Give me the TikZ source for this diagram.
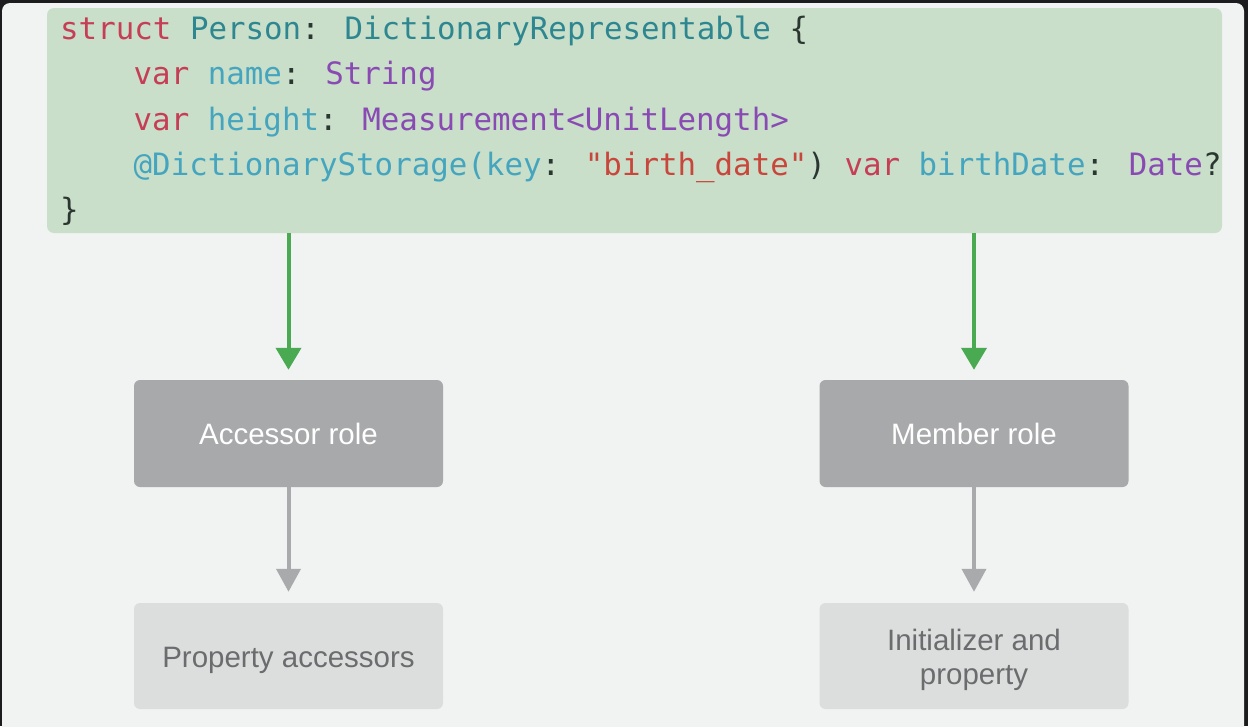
\documentclass[tikz,border=0pt]{standalone}
\usepackage{fontspec}
\setmainfont{Liberation Sans}
\newfontfamily\codefont{DejaVu Sans Mono}
\usetikzlibrary{arrows.meta}
\definecolor{pagebg}{HTML}{F1F2F2}
\definecolor{frame}{HTML}{1C1C1E}
\definecolor{codebg}{HTML}{C9DFCA}
\definecolor{kw}{HTML}{C63D56}
\definecolor{ty}{HTML}{2E8790}
\definecolor{idc}{HTML}{45A5BF}
\definecolor{tp}{HTML}{8A4AB3}
\definecolor{str}{HTML}{C8463B}
\definecolor{pl}{HTML}{2A3630}
\definecolor{rolebg}{HTML}{A8A9AB}
\definecolor{outbg}{HTML}{DCDDDD}
\definecolor{outtx}{HTML}{6B6C6D}
\definecolor{garr}{HTML}{4AAA52}
\definecolor{gyarr}{HTML}{A9AAAC}
\begin{document}
\begin{tikzpicture}[x=1pt,y=-1pt,
  codeline/.style={anchor=base west,inner sep=0pt,font=\codefont\fontsize{30.8}{36}\selectfont,text=pl},
  codebox/.style={fill=codebg,rounded corners=7pt,minimum width=1175pt,minimum height=225pt,inner sep=0pt},
  rolebox/.style={fill=rolebg,rounded corners=6pt,minimum width=309pt,minimum height=107pt,inner sep=0pt,
     text=white,font=\fontsize{29.5}{34}\selectfont},
  outbox/.style={fill=outbg,rounded corners=6pt,minimum width=309pt,minimum height=106pt,inner sep=0pt},
  outlabel/.style={label={[text=outtx,font=\fontsize{29.5}{34}\selectfont,align=center,yshift=-4pt]center:#1}},
  garrow/.style={draw=garr,line width=4pt,-{Triangle[width=25pt,length=22pt]},shorten >=10pt},
  gyarrow/.style={draw=gyarr,line width=4pt,-{Triangle[width=24pt,length=23pt]},shorten >=11pt}
]
\useasboundingbox (0,0) rectangle (1248,726);
\fill[frame] (0,0) rectangle (1248,726);
\fill[pagebg,rounded corners=8pt] (2,3) rectangle (1244,740);

\node[codebox] (code) at (634.5,120.5) {};
\node[codeline] (l1) at (60,39.5) {\textcolor{kw}{struct} \textcolor{ty}{Person}: \textcolor{ty}{DictionaryRepresentable} \{};
\node[codeline] (l2) at (133.5,84.8) {\textcolor{kw}{var} \textcolor{idc}{name}: \textcolor{tp}{String}};
\node[codeline] (l3) at (133.5,130.1) {\textcolor{kw}{var} \textcolor{idc}{height}: \textcolor{tp}{Measurement<UnitLength>}};
\node[codeline] (l4) at (133.5,175.4) {\textcolor{idc}{@DictionaryStorage(key}: \textcolor{str}{"birth\_date"}) \textcolor{kw}{var} \textcolor{idc}{birthDate}: \textcolor{tp}{Date}?};
\node[codeline] (l5) at (60,220.7) {\}};

\node[rolebox] (acc) at (288.5,433.5) {Accessor role};
\node[rolebox] (mem) at (974,433.5) {Member role};
\node[outbox,outlabel={Property accessors}] (pa) at (288.5,656) {};
\node[outbox,outlabel={Initializer and\\property}] (ip) at (974,656) {};

\draw[garrow] (acc.north |- code.south) -- (acc.north);
\draw[garrow] (mem.north |- code.south) -- (mem.north);
\draw[gyarrow] (acc.south) -- (pa.north);
\draw[gyarrow] (mem.south) -- (ip.north);
\end{tikzpicture}
\end{document}
